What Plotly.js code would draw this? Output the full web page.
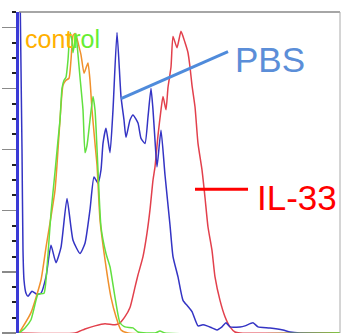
<!DOCTYPE html>
<html>
<head>
<meta charset="utf-8">
<script src="https://cdn.plot.ly/plotly-3.0.1.min.js"></script>
<style>html,body{margin:0;padding:0;background:#fff;}#chart{width:342px;height:334px;}</style>
</head>
<body>
<div id="chart"></div>
<script>
// Fluorescence channel (x) and cell counts (y)
const controlGreenX = [0,6,12,17,19,25,27,29,32,36,39,41,43,45,47,49,51,53,54,56,57,59,61,64,66,68,71,74,76,77,79,82,87,91,96,101,106,114,119,136,141,146,321];
const controlGreenY = [0,5,13,32,38,39,52,77,118,158,189,209,240,248,251,268,295,287,275,287,294,273,251,219,177,184,209,232,219,202,160,104,78,65,35,10,6,5,1,0,2,0,0];

const controlOrangeX = [0,2,12,22,27,32,36,38,41,44,47,50,52,54,56,58,60,62,65,67,69,71,73,76,78,81,86,92,97,102,109,321];
const controlOrangeY = [0,3,20,52,84,114,140,165,209,243,248,250,268,292,294,289,281,273,255,260,265,248,219,186,165,111,72,35,16,3,0,0];

const pbsX = [1,3,4,5,7,9,13,18,22,27,32,37,42,48,54,61,66,71,75,79,82,84,87,91,94,98,102,105,107,111,114,119,122,126,129,132,134,136,138,142,146,151,154,159,164,169,173,179,184,188,193,198,203,207,211,221,226,234,239,251,264,271,281,321];
const pbsY = [340,180,81,52,39,36,41,38,39,55,86,69,84,132,91,78,88,121,153,147,160,186,201,177,219,295,232,209,192,209,214,206,191,186,212,240,219,189,163,199,155,106,75,55,32,26,21,7,8,7,5,3,6,10,6,6,7,10,6,5,3,1,0,0];

const il33X = [0,56,66,76,86,96,101,106,111,116,119,124,128,131,134,136,139,142,144,147,149,152,154,158,162,166,169,171,173,176,179,183,186,189,193,196,201,206,211,216,221,321];
const il33Y = [0,0,4,7,9,8,10,16,25,45,57,75,98,121,150,163,194,219,232,219,241,261,291,280,296,285,275,261,243,222,186,160,133,104,81,55,32,16,6,1,0,0];

const labelControl = '<span style="color:#FFB000">cont</span><span style="color:#66EE33">rol</span>';
const labelPBS = 'PBS';
const labelIL33 = 'IL-33';

function line(x, y, color) {
  return {x: x, y: y, type: 'scatter', mode: 'lines',
    line: {color: color, width: 1.5, shape: 'spline', smoothing: 0.5},
    hoverinfo: 'skip', showlegend: false};
}

const data = [
  line(il33X, il33Y, '#E2404C'),
  line(pbsX, pbsY, '#3434C4'),
  line(controlOrangeX, controlOrangeY, '#F0902C'),
  line(controlGreenX, controlGreenY, '#62E040')
];

const layout = {
  width: 342, height: 334,
  margin: {l: 19, r: 2, t: 12, b: 1, pad: 0},
  paper_bgcolor: '#fff', plot_bgcolor: '#fff',
  showlegend: false,
  font: {family: 'Liberation Sans, Arial, sans-serif'},
  xaxis: {range: [0, 321], showgrid: false, zeroline: false, showticklabels: false,
    ticks: '', showline: false},
  yaxis: {range: [0, 315], showgrid: false, zeroline: false, showticklabels: false,
    showline: true, linecolor: '#3A3AD6', linewidth: 3,
    ticks: 'outside', tick0: 0, dtick: 60, ticklen: 14, tickwidth: 1.5, tickcolor: '#8a8a8a',
    minor: {ticks: 'outside', dtick: 15, ticklen: 4, tickwidth: 2, tickcolor: '#222'}},
  shapes: [
    {type: 'line', xref: 'paper', yref: 'paper', x0: 0, x1: 1, y0: 1, y1: 1,
     line: {color: '#888', width: 1.5}},
    {type: 'line', xref: 'paper', yref: 'paper', x0: 1, x1: 1, y0: 0, y1: 1,
     line: {color: '#aaa', width: 1}},
    {type: 'line', xref: 'x', yref: 'y', x0: 102, y0: 230, x1: 209, y1: 276,
     line: {color: '#4F8BDB', width: 3}},
    {type: 'line', xref: 'x', yref: 'y', x0: 176, y0: 141, x1: 229, y1: 141,
     line: {color: '#FF0000', width: 3}}
  ],
  annotations: [
    {text: labelControl, xref: 'x', yref: 'y', x: 4, y: 289, xanchor: 'left', yanchor: 'middle',
     showarrow: false, font: {size: 25, family: 'Liberation Sans, Arial, sans-serif'}},
    {text: labelPBS, xref: 'x', yref: 'y', x: 214, y: 268, xanchor: 'left', yanchor: 'middle',
     showarrow: false, font: {size: 35, color: '#5B8ED8', family: 'Liberation Sans, Arial, sans-serif'}},
    {text: labelIL33, xref: 'x', yref: 'y', x: 236, y: 133, xanchor: 'left', yanchor: 'middle',
     showarrow: false, font: {size: 35, color: '#FF0000', family: 'Liberation Sans, Arial, sans-serif'}}
  ]
};

Plotly.newPlot('chart', data, layout, {staticPlot: true, displayModeBar: false});
</script>
</body>
</html>
